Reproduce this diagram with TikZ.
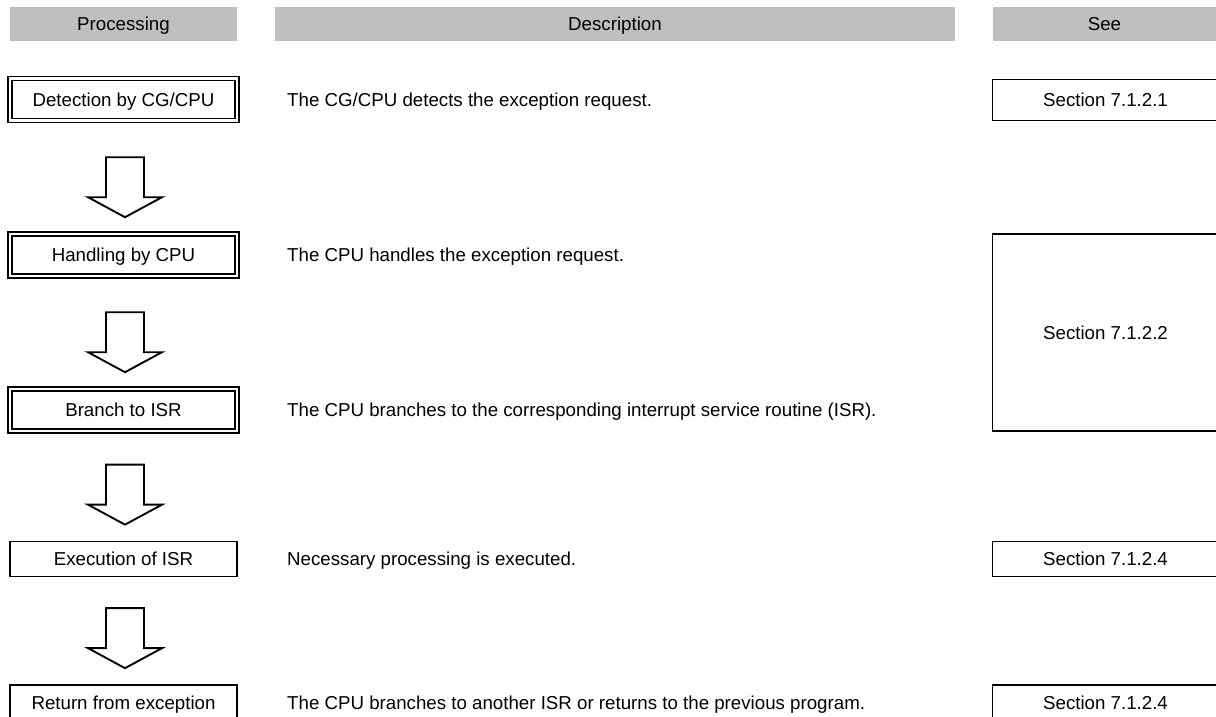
\documentclass[tikz,border=0pt]{standalone}
\usepackage{fontspec}
\setmainfont{Liberation Sans}
\usetikzlibrary{calc}

\begin{document}
\begin{tikzpicture}[x=1pt, y=-1pt,
    font=\fontsize{18.7}{22}\selectfont,
    entete/.style={fill=black!25, minimum height=34pt, inner sep=0pt, text height=13.4pt, text depth=0pt},
    etape/.style={draw, line width=1.7pt, minimum width=227pt, minimum height=35pt, inner sep=0pt, text height=13.4pt, text depth=0pt},
    etapedouble/.style={etape, double, line width=1.6pt, double distance=2.4pt, minimum height=42pt},
    renvoi/.style={draw, line width=1.7pt, minimum width=226pt, minimum height=41pt, inner sep=0pt, text height=13.4pt, text depth=0pt},
    texte/.style={anchor=west, inner sep=0pt, text height=13.4pt, text depth=0pt},
    fleche/.style={draw, line width=1.9pt, line join=miter, fill=white}]

    % Cadre
    \useasboundingbox (0,0) rectangle (1216,717);
    \clip (0,0) rectangle (1216,717);

    % En-tetes
    \node[entete, minimum width=227pt] (hproc) at (123.5,24) {Processing};
    \node[entete, minimum width=680pt] (hdesc) at (615,24) {Description};
    \node[entete, minimum width=223pt] (hvoir) at (1104.5,24) {See};

    % Etapes
    \node[etapedouble] (detect) at (123.5,99.5) {Detection by CG/CPU};
    \node[etapedouble] (handle) at (123.5,255) {Handling by CPU};
    \node[etapedouble] (branch) at (123.5,410) {Branch to ISR};
    \node[etape] (exec) at (123.5,559) {Execution of ISR};
    \node[etape] (retour) at (123.5,702.5) {Return from exception};

    % Fleches entre les etapes
    \foreach \a/\b in {detect/handle, handle/branch, branch/exec, exec/retour}
        \draw[fleche] ($(\b.north)+(1.5,-16)$) -- ++(37,-20) -- ++(-18,0) -- ++(0,-40)
            -- ++(-38,0) -- ++(0,40) -- ++(-18,0) -- cycle;

    % Descriptions
    \node[texte] (ddetect) at (287,99.5) {The CG/CPU detects the exception request.};
    \node[texte] (dhandle) at (287,255) {The CPU handles the exception request.};
    \node[texte] (dbranch) at (287,410) {The CPU branches to the corresponding interrupt service routine (ISR).};
    \node[texte] (dexec) at (287,559) {Necessary processing is executed.};
    \node[texte] (dretour) at (287,702.5) {The CPU branches to another ISR or returns to the previous program.};

    % Renvois
    \node[renvoi] (sdetect) at (1105.5,100) {Section 7.1.2.1};
    \node[renvoi, minimum height=197pt] (shandle) at (1105.5,332.5) {Section 7.1.2.2};
    \node[renvoi, minimum height=35pt] (sexec) at (1105.5,559) {Section 7.1.2.4};
    \node[renvoi, minimum height=35pt] (sretour) at (1105.5,702.5) {Section 7.1.2.4};
\end{tikzpicture}
\end{document}
